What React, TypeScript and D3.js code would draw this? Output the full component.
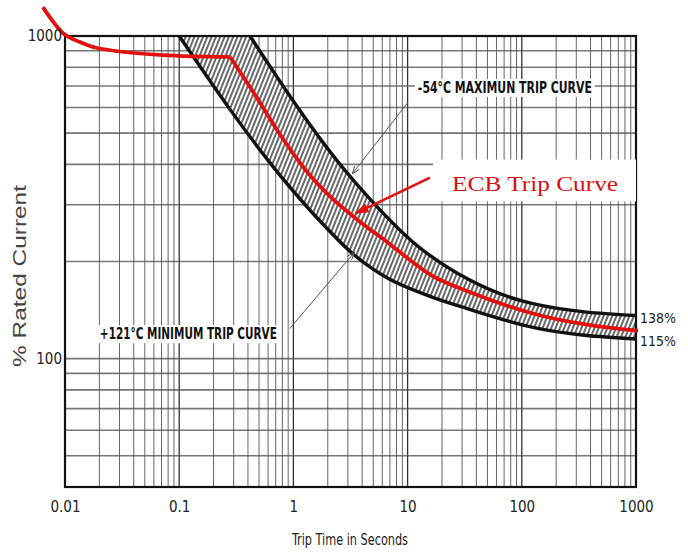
import React, { useEffect, useRef } from "react";
import * as d3 from "d3";

// -54°C maximum trip curve (upper edge of the band)
const maxTripTime = [0.417, 2.56, 4.69, 11.1, 33.1, 125, 1000];
const maxTripCurrent = [1000, 400, 312, 230, 177, 148, 136];

// +121°C minimum trip curve (lower edge of the band)
const minTripTime = [0.1, 0.764, 1.71, 3.33, 6.6, 15.7, 33.1, 125, 1000];
const minTripCurrent = [1000, 370, 267, 211, 178, 156, 143, 125, 115];

// ECB trip curve (red), corner at index 5
const ecbTime = [0.0064, 0.0096, 0.0135, 0.0191, 0.072, 0.279, 0.461, 0.764, 1.31, 2.22, 3.61, 6.6, 16.7, 33.1, 125, 1040];
const ecbCurrent = [1229, 1021, 958, 918, 873, 861, 657, 495, 380, 312, 270, 230, 180, 162, 138, 122];
const ecbCorner = 5;

const timeTicks = [0.01, 0.1, 1, 10, 100, 1000];
const currentTicks = [100, 1000];
const endLabels = ["138%", "115%"];

const narrow = "'Liberation Sans Narrow', 'DejaVu Sans Condensed', 'Liberation Sans', sans-serif";

const TripCurveChart = () => {
  const svgRef = useRef(null);

  useEffect(() => {
    const svg = d3.select(svgRef.current);
    svg.selectAll("*").remove();

    const width = 688;
    const height = 556;
    const margin = { top: 36, right: 52, bottom: 69, left: 65 };

    const x = d3.scaleLog().domain([0.01, 1000]).range([margin.left, width - margin.right]);
    const y = d3.scaleLog().domain([40, 1000]).range([height - margin.bottom, margin.top]);

    const defs = svg.append("defs");
    defs.append("clipPath").attr("id", "plot")
      .append("rect")
      .attr("x", margin.left).attr("y", margin.top)
      .attr("width", width - margin.left - margin.right)
      .attr("height", height - margin.top - margin.bottom);

    const hatch = defs.append("pattern")
      .attr("id", "hatch")
      .attr("patternUnits", "userSpaceOnUse")
      .attr("width", 4).attr("height", 10)
      .attr("patternTransform", "rotate(22)");
    hatch.append("rect").attr("width", 4).attr("height", 10).attr("fill", "#fff");
    hatch.append("line")
      .attr("x1", 2).attr("y1", 0).attr("x2", 2).attr("y2", 10)
      .attr("stroke", "#2a2a2a").attr("stroke-width", 1.4);

    defs.append("marker")
      .attr("id", "redHead")
      .attr("markerUnits", "userSpaceOnUse")
      .attr("viewBox", "0 0 14 10")
      .attr("markerWidth", 14).attr("markerHeight", 10)
      .attr("refX", 13).attr("refY", 5)
      .attr("orient", "auto")
      .append("path").attr("d", "M0,0L14,5L0,10Z").attr("fill", "#e41010");

    defs.append("marker")
      .attr("id", "grayHead")
      .attr("markerUnits", "userSpaceOnUse")
      .attr("viewBox", "0 0 8 6")
      .attr("markerWidth", 8).attr("markerHeight", 6)
      .attr("refX", 7.5).attr("refY", 3)
      .attr("orient", "auto")
      .append("path").attr("d", "M0,0L8,3L0,6").attr("fill", "none")
      .attr("stroke", "#555").attr("stroke-width", 1);

    // grid
    const grid = svg.append("g");
    grid.selectAll("line.v")
      .data(x.ticks())
      .enter().append("line")
      .attr("x1", (d) => x(d)).attr("x2", (d) => x(d))
      .attr("y1", margin.top).attr("y2", height - margin.bottom)
      .attr("stroke", (d) => (timeTicks.includes(d) ? "#333" : "#666"))
      .attr("stroke-width", (d) => (timeTicks.includes(d) ? 1.3 : 1));
    grid.selectAll("line.h")
      .data(y.ticks())
      .enter().append("line")
      .attr("x1", margin.left).attr("x2", width - margin.right)
      .attr("y1", (d) => y(d)).attr("y2", (d) => y(d))
      .attr("stroke", "#555")
      .attr("stroke-width", 1.6)
      .attr("stroke-opacity", 0.8);

    const line = d3.line()
      .x((d) => x(d[0]))
      .y((d) => y(d[1]))
      .curve(d3.curveMonotoneX);

    const maxPts = maxTripTime.map((t, i) => [t, maxTripCurrent[i]]);
    const minPts = minTripTime.map((t, i) => [t, minTripCurrent[i]]);
    const ecbPts = ecbTime.map((t, i) => [t, ecbCurrent[i]]);

    const plot = svg.append("g").attr("clip-path", "url(#plot)");

    // hatched band between the two curves
    const bandPath =
      line(minPts) + line(maxPts.slice().reverse()).replace(/^M/, "L") + "Z";
    plot.append("path").attr("d", bandPath).attr("fill", "url(#hatch)");

    [maxPts, minPts].forEach((pts) => {
      plot.append("path")
        .attr("d", line(pts))
        .attr("fill", "none")
        .attr("stroke", "#111")
        .attr("stroke-width", 3.4);
    });

    // frame
    svg.append("rect")
      .attr("x", margin.left).attr("y", margin.top)
      .attr("width", width - margin.left - margin.right)
      .attr("height", height - margin.top - margin.bottom)
      .attr("fill", "none").attr("stroke", "#111").attr("stroke-width", 2.2);

    const addBoxedLabel = (text, t, c, len) => {
      const g = svg.append("g");
      const rect = g.append("rect").attr("fill", "#fff");
      const txt = g.append("text")
        .attr("x", x(t)).attr("y", y(c))
        .attr("dy", "0.36em")
        .attr("font-family", narrow)
        .attr("font-weight", "bold")
        .attr("font-size", 15)
        .attr("textLength", len)
        .attr("lengthAdjust", "spacingAndGlyphs")
        .attr("fill", "#111")
        .text(text);
      const b = txt.node().getBBox();
      rect.attr("x", b.x - 3).attr("y", b.y).attr("width", b.width + 6).attr("height", b.height);
    };

    // annotation: -54°C maximum
    svg.append("line")
      .attr("x1", x(10)).attr("y1", y(621))
      .attr("x2", x(3.3)).attr("y2", y(375))
      .attr("stroke", "#555").attr("stroke-width", 1)
      .attr("marker-end", "url(#grayHead)");
    addBoxedLabel("-54°C MAXIMUN TRIP CURVE", 12.3, 692, 174);

    // annotation: +121°C minimum
    svg.append("line")
      .attr("x1", x(0.93)).attr("y1", y(124))
      .attr("x2", x(3.4)).attr("y2", y(213))
      .attr("stroke", "#555").attr("stroke-width", 1)
      .attr("marker-end", "url(#grayHead)");
    addBoxedLabel("+121°C MINIMUM TRIP CURVE", 0.0202, 119.4, 177);

    // red ECB curve (drawn over the frame, not clipped)
    [ecbPts.slice(0, ecbCorner + 1), ecbPts.slice(ecbCorner)].forEach((pts) => {
      svg.append("path")
        .attr("d", line(pts))
        .attr("fill", "none")
        .attr("stroke", "#e41010")
        .attr("stroke-width", 3.8)
        .attr("stroke-linejoin", "round");
    });

    // ECB label box + arrow
    svg.append("rect")
      .attr("x", x(16.7)).attr("y", y(414))
      .attr("width", x(1000) - x(16.7))
      .attr("height", y(307) - y(414))
      .attr("fill", "#fff");
    svg.append("text")
      .attr("x", x(24.5)).attr("y", y(330))
      .attr("font-family", "'Liberation Serif', 'DejaVu Serif', serif")
      .attr("font-size", 21)
      .attr("textLength", 166)
      .attr("lengthAdjust", "spacingAndGlyphs")
      .attr("fill", "#d81010")
      .text("ECB Trip Curve");
    svg.append("line")
      .attr("x1", x(15.7)).attr("y1", y(364))
      .attr("x2", x(3.5)).attr("y2", y(282))
      .attr("stroke", "#e41010").attr("stroke-width", 2.6)
      .attr("marker-end", "url(#redHead)");

    // end labels
    svg.append("g")
      .selectAll("text")
      .data([maxTripCurrent[maxTripCurrent.length - 1], minTripCurrent[minTripCurrent.length - 1]])
      .enter().append("text")
      .attr("x", x(1000) + 4)
      .attr("y", (d) => y(d))
      .attr("dy", (d, i) => (i === 0 ? "0.55em" : "0.5em"))
      .attr("font-family", narrow)
      .attr("font-size", 14)
      .attr("fill", "#222")
      .text((d, i) => endLabels[i]);

    // axes
    const xAxis = d3.axisBottom(x)
      .tickValues(timeTicks)
      .tickSize(0)
      .tickPadding(14)
      .tickFormat((d) => String(d));
    const gx = svg.append("g")
      .attr("transform", `translate(0,${height - margin.bottom})`)
      .call(xAxis);
    gx.select(".domain").remove();
    gx.selectAll("text")
      .attr("font-family", narrow)
      .attr("font-size", 15)
      .attr("fill", "#222");

    const yAxis = d3.axisLeft(y)
      .tickValues(currentTicks)
      .tickSize(0)
      .tickPadding(3)
      .tickFormat((d) => String(d));
    const gy = svg.append("g")
      .attr("transform", `translate(${margin.left},0)`)
      .call(yAxis);
    gy.select(".domain").remove();
    gy.selectAll("text")
      .attr("font-family", narrow)
      .attr("font-size", 15)
      .attr("fill", "#222");

    svg.append("text")
      .attr("x", 350).attr("y", 545)
      .attr("text-anchor", "middle")
      .attr("font-family", narrow)
      .attr("font-size", 15)
      .attr("textLength", 116)
      .attr("lengthAdjust", "spacingAndGlyphs")
      .attr("fill", "#222")
      .text("Trip Time in Seconds");

    svg.append("text")
      .attr("transform", "translate(26,276) rotate(-90)")
      .attr("text-anchor", "middle")
      .attr("font-family", "'Liberation Sans', Arial, sans-serif")
      .attr("font-size", 18)
      .attr("textLength", 182)
      .attr("lengthAdjust", "spacingAndGlyphs")
      .attr("fill", "#444")
      .text("% Rated Current");
  }, []);

  return (
    <svg
      ref={svgRef}
      width="688"
      height="556"
      style={{ position: "absolute", left: 0, top: 0, background: "#fff" }}
    ></svg>
  );
};

export default function App() {
  return <TripCurveChart />;
}
